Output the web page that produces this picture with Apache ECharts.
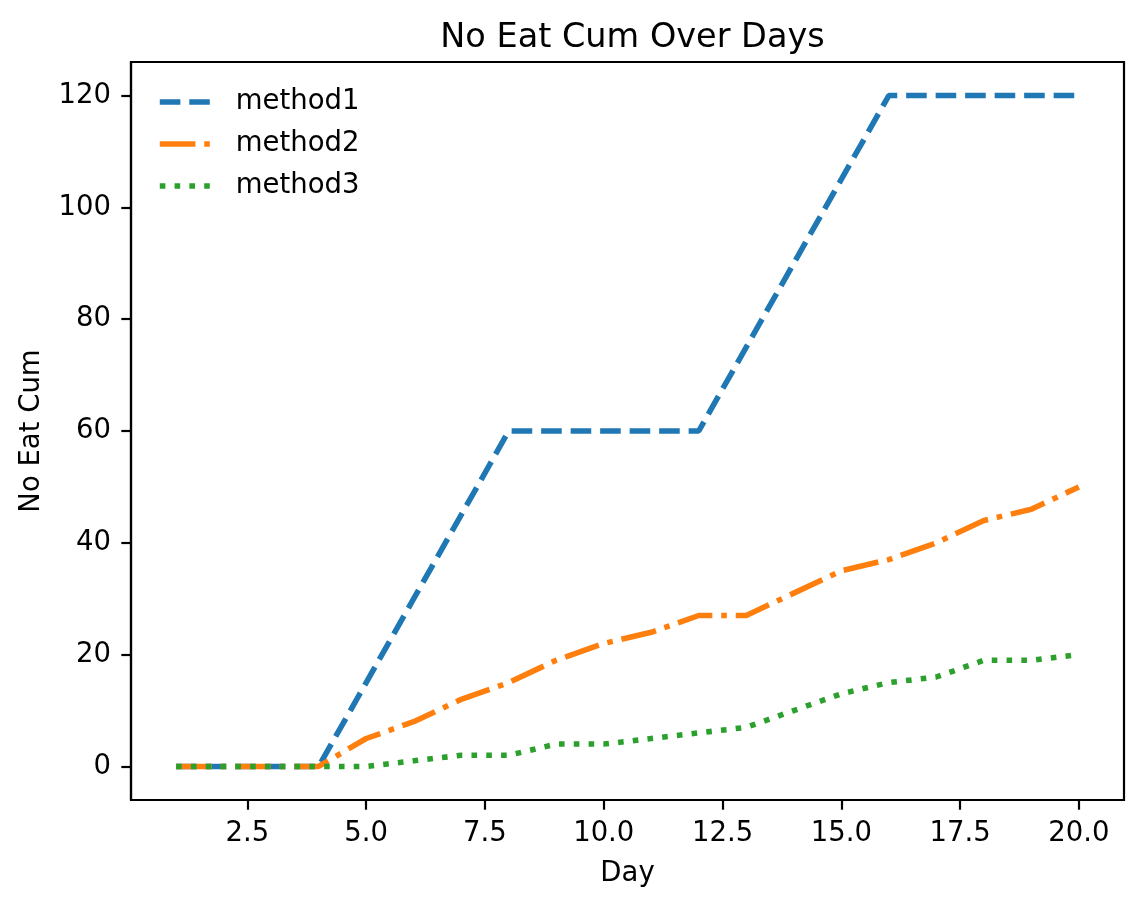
<!DOCTYPE html>
<html>
<head>
<meta charset="utf-8">
<script src="https://cdn.jsdelivr.net/npm/echarts@6/dist/echarts.min.js"></script>
<style>html,body{margin:0;padding:0;background:#fff}#c{width:1143px;height:908px}</style>
</head>
<body>
<div id="c"></div>
<script>
const days = [1,2,3,4,5,6,7,8,9,10,11,12,13,14,15,16,17,18,19,20];
const method1 = [0,0,0,0,15,30,45,60,60,60,60,60,75,90,105,120,120,120,120,120];
const method2 = [0,0,0,0,5,8,12,15,19,22,24,27,27,31,35,37,40,44,46,50];
const method3 = [0,0,0,0,0,1,2,2,4,4,5,6,7,10,13,15,16,19,19,20];
const xTicks = [2.5,5,7.5,10,12.5,15,17.5,20];
const yTicks = [0,20,40,60,80,100,120];
const seriesNames = ['method1','method2','method3'];

const FONT = 'DejaVu Sans';
const pairs = arr => days.map((d,i)=>[d,arr[i]]);
const lw = 5.56;
const chart = echarts.init(document.getElementById('c'), null, {renderer:'canvas'});
chart.setOption({
  animation:false,
  backgroundColor:'#fff',
  textStyle:{fontFamily:FONT,color:'#000'},
  title:{text:'No Eat Cum Over Days',left:627.5,textAlign:'center',top:16,
    textStyle:{fontFamily:FONT,fontSize:33.5,fontWeight:'normal',color:'#000'}},
  grid:{left:131,right:19,top:62,bottom:108,show:true,borderColor:'#000',borderWidth:2.2,backgroundColor:'transparent'},
  legend:{orient:'vertical',left:157,top:87,padding:0,itemWidth:50,itemHeight:14,itemGap:12,
    data:seriesNames,
    itemStyle:{opacity:0},
    lineStyle:{width:lw},
    textStyle:{fontFamily:FONT,fontSize:27.5,color:'#000',lineHeight:30,padding:[0,0,0,21]}},
  xAxis:{type:'value',min:0.05,max:20.95,name:'Day',nameLocation:'middle',nameGap:60,
    nameTextStyle:{fontFamily:FONT,fontSize:27.5,color:'#000'},
    axisLine:{show:true,onZero:false,lineStyle:{color:'#000',width:2.2}},
    axisTick:{show:true,length:9.7,lineStyle:{color:'#000',width:2.2},customValues:xTicks},
    axisLabel:{fontFamily:FONT,fontSize:27.5,color:'#000',margin:20,customValues:xTicks,
      formatter:v=>v.toFixed(1)},
    splitLine:{show:false}},
  yAxis:{type:'value',min:-6,max:126,name:'No Eat Cum',nameLocation:'middle',nameGap:85,
    nameTextStyle:{fontFamily:FONT,fontSize:27.5,color:'#000'},
    axisLine:{show:true,onZero:false,lineStyle:{color:'#000',width:2.2}},
    axisTick:{show:true,length:9.7,lineStyle:{color:'#000',width:2.2},customValues:yTicks},
    axisLabel:{fontFamily:FONT,fontSize:27.5,color:'#000',margin:20,customValues:yTicks,
      formatter:v=>String(v)},
    splitLine:{show:false}},
  series:[
    {name:'method1',type:'line',data:pairs(method1),showSymbol:false,symbol:'none',color:'#1f77b4',
      lineStyle:{color:'#1f77b4',width:lw,type:[20.6,8.9],cap:'butt'}},
    {name:'method2',type:'line',data:pairs(method2),showSymbol:false,symbol:'none',color:'#ff7f0e',
      lineStyle:{color:'#ff7f0e',width:lw,type:[35.6,8.9,5.6,8.9],cap:'butt'}},
    {name:'method3',type:'line',data:pairs(method3),showSymbol:false,symbol:'none',color:'#2ca02c',
      lineStyle:{color:'#2ca02c',width:lw,type:[5.6,9.2],cap:'butt'}}
  ]
});
</script>
</body>
</html>
